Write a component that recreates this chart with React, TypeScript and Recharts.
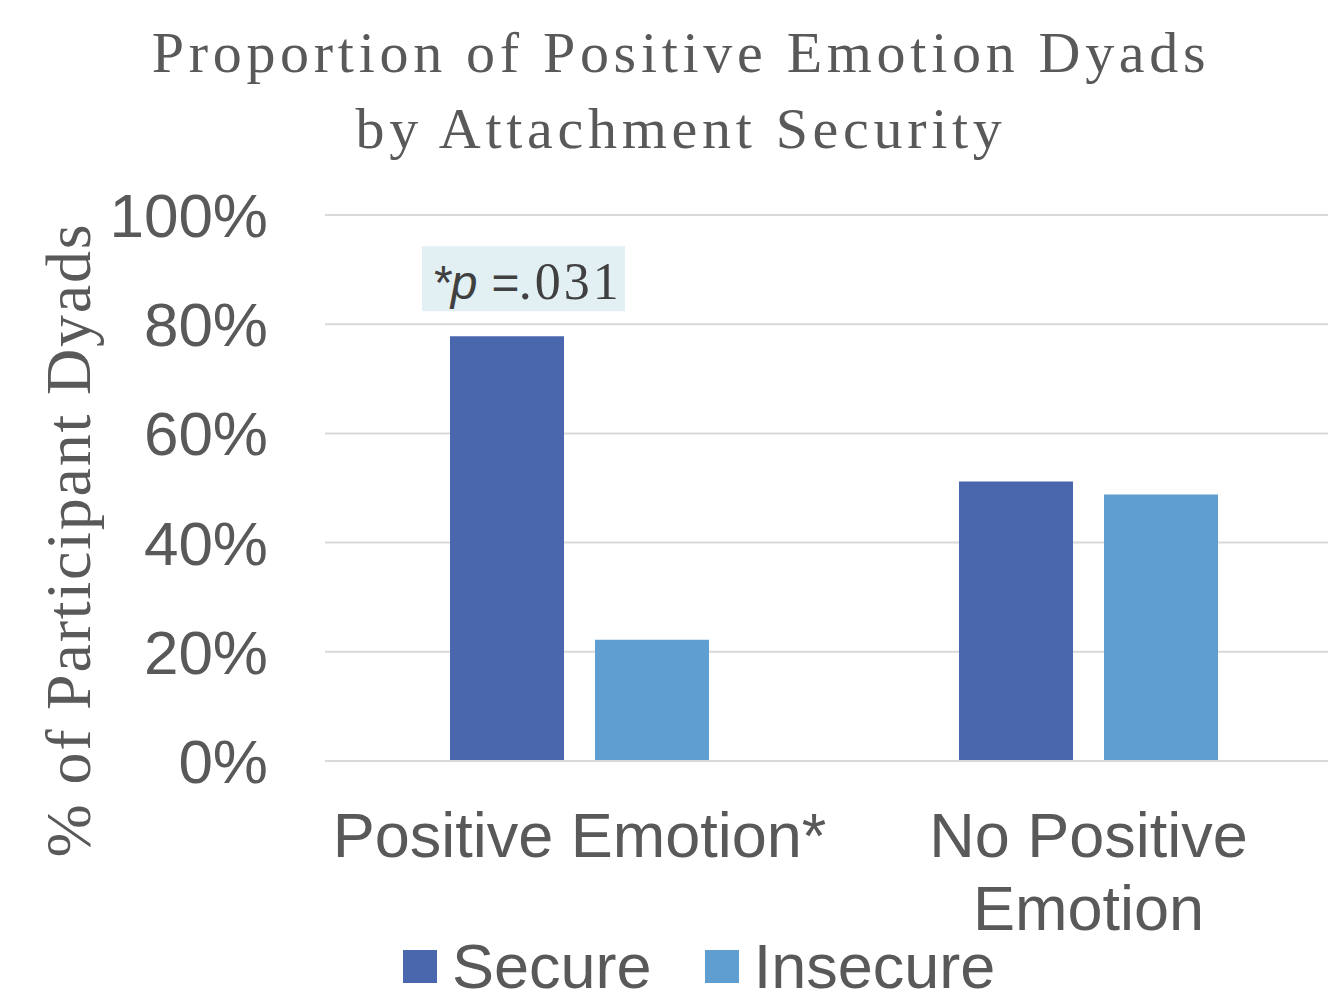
import React from 'react';
import { BarChart, Bar, XAxis, YAxis, CartesianGrid, Legend, LabelList, Customized } from 'recharts';

const categories = ['Positive Emotion*', 'No Positive\nEmotion'];
const secureValues = [77.8, 51.2];
const insecureValues = [22.2, 48.8];
const yTicks = [0, 20, 40, 60, 80, 100];
const titleLines = ['Proportion of Positive Emotion Dyads', 'by Attachment Security'];
const yAxisTitle = '% of Participant Dyads';
const annotation = { italic: '*p =', value: '.031' };
const seriesNames = ['Secure', 'Insecure'];
const colors = ['#4A66AC', '#5F9ED1'];

const data = categories.map((c, i) => ({ name: c, Secure: secureValues[i], Insecure: insecureValues[i] }));

const TEXT = '#595959';
const SANS = '"Liberation Sans", Arial, sans-serif';
const SERIF = '"Liberation Serif", "Times New Roman", serif';

const YTick = (props: any) => {
  const { y, payload } = props;
  return (
    <text x={268} y={y + 22} textAnchor="end" fill={TEXT} fontFamily={SANS} fontSize={62}>
      {`${payload.value}%`}
    </text>
  );
};

const XTick = (props: any) => {
  const { x, payload } = props;
  const lines = String(payload.value).split('\n');
  return (
    <g>
      {lines.map((l, i) => (
        <text key={i} x={x} y={857 + i * 73} textAnchor="middle" fill={TEXT} fontFamily={SANS} fontSize={63}>
          {l}
        </text>
      ))}
    </g>
  );
};

const AnnotationLabel = (props: any) => {
  const { x, y, index } = props;
  if (index !== 0) return null;
  return (
    <g>
      <rect x={x - 28} y={y - 90} width={203} height={65} fill="#E2F0F3" />
      <text x={x - 18} y={y - 37} fill="#404040">
        <tspan fontFamily={SANS} fontStyle="italic" fontSize={48}>{annotation.italic}</tspan>
        <tspan fontFamily={SERIF} fontSize={52} letterSpacing={3}>{annotation.value}</tspan>
      </text>
    </g>
  );
};

const Titles = () => (
  <g>
    {titleLines.map((t, i) => (
      <text key={i} x={681} y={72 + i * 76} textAnchor="middle" fill={TEXT} fontFamily={SERIF} fontSize={58} letterSpacing={4.7}>
        {t}
      </text>
    ))}
    <text
      x={0}
      y={0}
      transform="translate(90,540) rotate(-90)"
      textAnchor="middle"
      fill={TEXT}
      fontFamily={SERIF}
      fontSize={64}
      letterSpacing={1.8}
    >
      {yAxisTitle}
    </text>
  </g>
);

const LegendContent = () => (
  <div style={{ display: 'flex', alignItems: 'center', marginLeft: 403, height: 63 }}>
    {seriesNames.map((n, i) => (
      <div key={n} style={{ display: 'flex', alignItems: 'center', marginRight: 53 }}>
        <div style={{ width: 34, height: 33, background: colors[i], marginRight: 15 }} />
        <span style={{ fontFamily: SANS, fontSize: 63, color: TEXT, lineHeight: '63px' }}>{n}</span>
      </div>
    ))}
  </div>
);

export default function App() {
  return (
    <div style={{ position: 'absolute', left: 0, top: 0, width: 1328, height: 997, overflow: 'hidden', background: '#fff' }}>
      <BarChart
        width={1343}
        height={997}
        data={data}
        margin={{ top: 215, right: 0, bottom: 0, left: 0 }}
        barGap={31}
        barSize={114}
      >
        <CartesianGrid vertical={false} stroke="#D9D9D9" strokeWidth={2} />
        <XAxis
          dataKey="name"
          height={236}
          axisLine={{ stroke: '#D9D9D9', strokeWidth: 2 }}
          tickLine={false}
          tick={<XTick />}
          interval={0}
        />
        <YAxis
          width={325}
          domain={[0, 100]}
          ticks={yTicks}
          axisLine={false}
          tickLine={false}
          tick={<YTick />}
        />
        <Legend
          layout="horizontal"
          verticalAlign="middle"
          align="center"
          wrapperStyle={{ top: 935, left: 0, width: 1328 }}
          content={<LegendContent />}
        />
        <Bar dataKey="Secure" fill={colors[0]} isAnimationActive={false}>
          <LabelList dataKey="Secure" content={<AnnotationLabel />} />
        </Bar>
        <Bar dataKey="Insecure" fill={colors[1]} isAnimationActive={false} />
        <Customized component={Titles} />
      </BarChart>
    </div>
  );
}
